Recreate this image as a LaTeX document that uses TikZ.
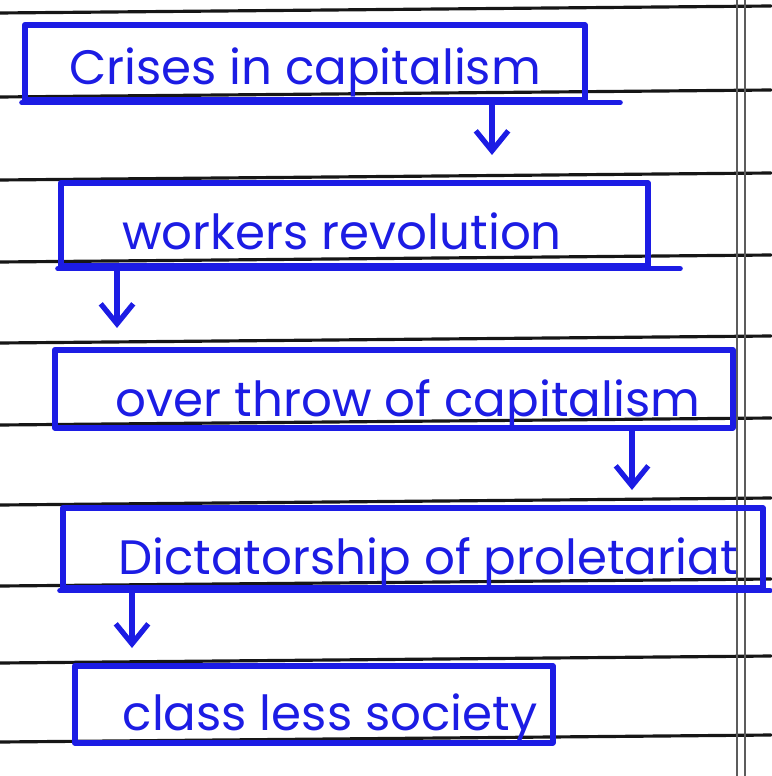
\documentclass[tikz,border=0pt]{standalone}
\usepackage{fontspec}
\setmainfont{Poppins}
\usetikzlibrary{arrows.meta}
\definecolor{inkblue}{RGB}{28,28,228}
\definecolor{ruleink}{RGB}{22,22,22}

\begin{document}
\begin{tikzpicture}[x=0.02cm,y=-0.02cm,>={Straight Barb[length=4mm,width=6.5mm]},line cap=round,line join=round,
  stage/.style={draw=inkblue,line width=3.2pt,inner sep=0pt,anchor=north west},
  word/.style={text=inkblue,font=\fontsize{27.5}{32}\selectfont,anchor=base,inner sep=0pt},
  flow/.style={->,draw=inkblue,line width=3pt}]
\useasboundingbox (0,0) rectangle (771,776);
% ruled paper
\foreach \y in {13,97,180,262,343,425,505,586,663,742}
  \draw[ruleink,line width=1.8pt] (0,\y) -- (771,\y-7);
\draw[ruleink!70,line width=0.9pt] (737,0) -- (737,776);
\draw[ruleink!70,line width=0.9pt] (745,0) -- (745,776);

% stages
\node[stage,minimum width=11.2cm,minimum height=1.5cm] (crises) at (22,22) {};
\node[word] (crises-t) at (305,85) {Crises in capitalism};
\node[stage,minimum width=11.74cm,minimum height=1.66cm] (revolt) at (58,180) {};
\node[word] (revolt-t) at (342,250) {workers revolution};
\node[stage,minimum width=13.56cm,minimum height=1.56cm] (overthrow) at (52,347) {};
\node[word] (overthrow-t) at (408,416) {over throw of capitalism};
\node[stage,minimum width=14cm,minimum height=1.6cm] (dictat) at (60,505) {};
\node[word] (dictat-t) at (428,574) {Dictatorship of proletariat};
\node[stage,minimum width=9.56cm,minimum height=1.54cm] (classless) at (72,663) {};
\node[word] (classless-t) at (330,730) {class less society};

% underlines running past the boxes
\coordinate (u1) at (620,100);
\coordinate (u2) at (680,266);
\coordinate (u4) at (770,585);
\draw[inkblue,line width=3.2pt] (crises.south west) -- (crises.south west -| u1);
\draw[inkblue,line width=3.2pt] (revolt.south west) -- (revolt.south west -| u2);
\draw[inkblue,line width=3.2pt] (dictat.south west) -- (dictat.south west -| u4);

% arrows between stages
\coordinate (a1) at (492,155);
\coordinate (a2) at (117,328);
\coordinate (a3) at (632,490);
\coordinate (a4) at (132,648);
\draw[flow] (crises.south -| a1) -- (a1);
\draw[flow] (revolt.south -| a2) -- (a2);
\draw[flow] (overthrow.south -| a3) -- (a3);
\draw[flow] (dictat.south -| a4) -- (a4);
\end{tikzpicture}
\end{document}
